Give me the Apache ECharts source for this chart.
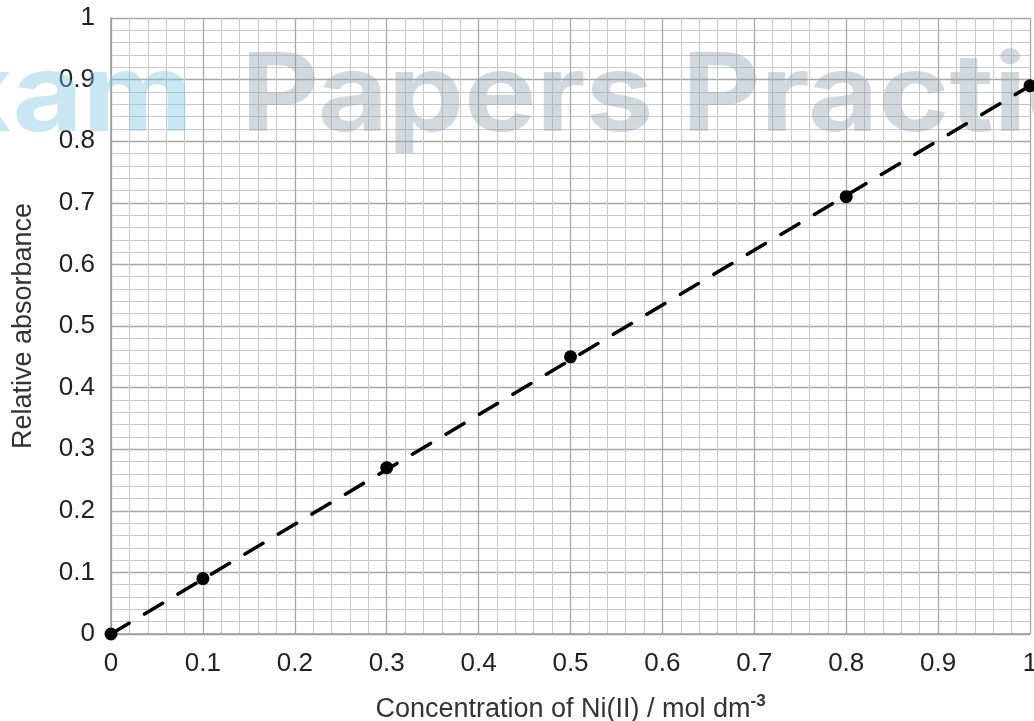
<!DOCTYPE html>
<html>
<head>
<meta charset="utf-8">
<script src="https://cdn.jsdelivr.net/npm/echarts@6/dist/echarts.min.js"></script>
<style>html,body{margin:0;padding:0;background:#fff}#c{width:1034px;height:721px}</style>
</head>
<body>
<div id="c"></div>
<script>
// Data
const concentration = [0, 0.1, 0.3, 0.5, 0.8, 1.0];
const absorbance = [0, 0.09, 0.27, 0.45, 0.71, 0.89];
const fitX = [0, 1.0];
const fitY = [0, 0.89];
const xTitle = 'Concentration of Ni(II) / mol dm';
const xTitleSup = '-3';
const yTitle = 'Relative absorbance';
const watermarkA = 'Exam';
const watermarkB = 'Papers Practice';

const chart = echarts.init(document.getElementById('c'), null, {renderer: 'canvas'});
const FONT = 'Liberation Sans, Arial, sans-serif';
const axisCommon = {
  type: 'value', min: 0, max: 1, interval: 0.1,
  axisLine: {show: true, lineStyle: {color: '#9a9a9a', width: 1.5}},
  axisTick: {show: false},
  splitLine: {show: true, lineStyle: {color: '#a8a8a8', width: 1.3}},
  minorTick: {show: false, splitNumber: 5},
  minorSplitLine: {show: true, lineStyle: {color: '#c9c9c9', width: 1}},
  axisLabel: {fontFamily: FONT, fontSize: 26, color: '#222',
    formatter: v => (Math.abs(v - 1) < 1e-9 ? '1' : (Math.abs(v) < 1e-9 ? '0' : v.toFixed(1)))}
};
chart.setOption({
  animation: false,
  backgroundColor: '#fff',
  grid: {left: 111, right: 4, top: 18, bottom: 87, containLabel: false, outerBoundsMode: 'none'},
  xAxis: Object.assign({}, axisCommon, {
    name: '{a|' + xTitle + '}{s|' + xTitleSup + '}',
    nameLocation: 'middle', nameGap: 59,
    nameTextStyle: {rich: {
      a: {fontFamily: FONT, fontSize: 27, color: '#333'},
      s: {fontFamily: FONT, fontSize: 17, color: '#333', fontWeight: 'bold', padding: [0, 0, 16, 0]}
    }},
    axisLabel: Object.assign({}, axisCommon.axisLabel, {margin: 17})
  }),
  yAxis: Object.assign({}, axisCommon, {
    name: yTitle, nameLocation: 'middle', nameGap: 74, nameRotate: 90,
    nameTextStyle: {fontFamily: FONT, fontSize: 27, color: '#333'},
    axisLabel: Object.assign({}, axisCommon.axisLabel, {margin: 16})
  }),
  graphic: [
    {type: 'text', z: 5, x: 193, y: 153, scaleX: 1.12, silent: true,
     style: {text: watermarkA, fontFamily: 'Inter, Lato, sans-serif', fontWeight: 'bold', fontSize: 108,
       fill: 'rgba(120,195,225,0.4)', textAlign: 'right', textVerticalAlign: 'bottom'}},
    {type: 'text', z: 5, x: 241, y: 153, scaleX: 1.12, silent: true,
     style: {text: watermarkB, fontFamily: 'Inter, Lato, sans-serif', fontWeight: 'bold', fontSize: 108,
       fill: 'rgba(140,160,175,0.4)', textAlign: 'left', textVerticalAlign: 'bottom'}}
  ],
  series: [
    {type: 'line', data: fitX.map((x, i) => [x, fitY[i]]), showSymbol: false, z: 10,
     lineStyle: {color: '#000', width: 3.5, type: [21, 18], cap: 'round'}},
    {type: 'scatter', data: concentration.map((x, i) => [x, absorbance[i]]), symbolSize: 13, z: 11,
     itemStyle: {color: '#000', opacity: 1}}
  ]
});
</script>
</body>
</html>
